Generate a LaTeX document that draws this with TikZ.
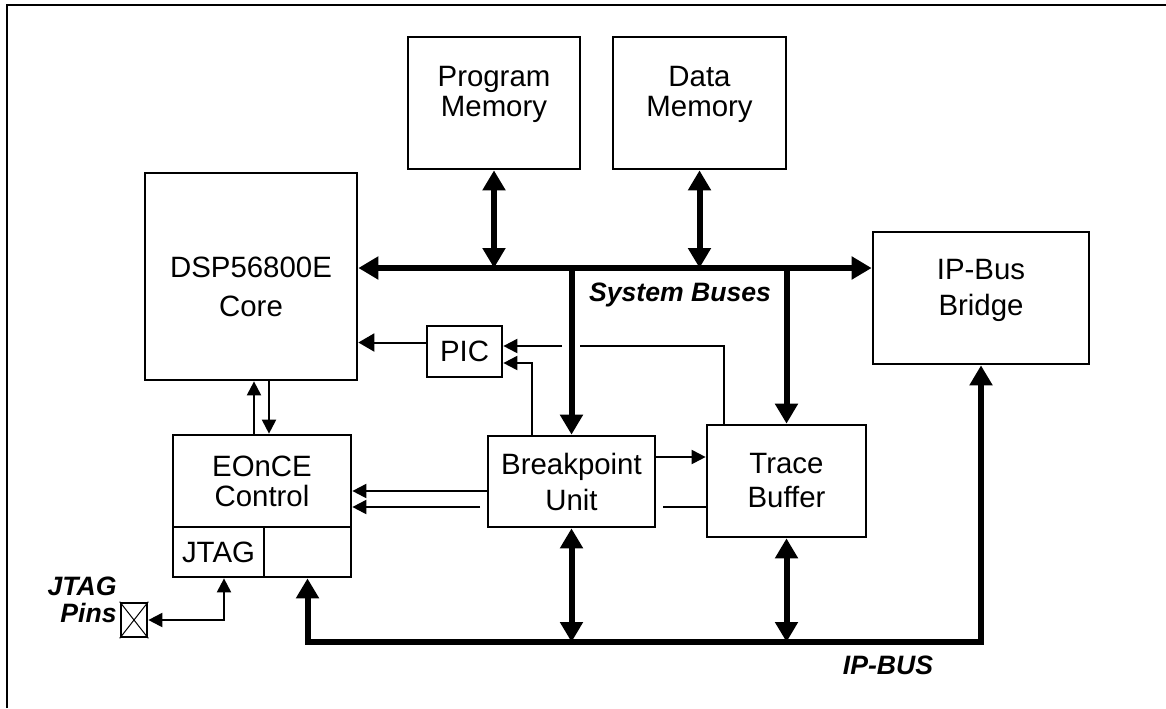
\documentclass[tikz,border=0pt]{standalone}
\usepackage{fontspec}
\setmainfont{Liberation Sans}
\usepackage{tikz}
\usetikzlibrary{
  arrows.meta,
  calc
}
\tikzset{
  bustip/.tip={Triangle[length=10pt, width=11pt]},
  sigtip/.tip={Triangle[length=7pt, width=7pt]},
  bigtip/.tip={Triangle[length=8pt, width=9pt]}
}

\begin{document}
\begin{tikzpicture}[x=0.5pt, y=-0.5pt,
  blk/.style={draw, line width=1.35pt, inner sep=0pt, align=center, font=\fontsize{14.7pt}{15pt}\selectfont},
  txt/.style={inner sep=0pt, align=center, font=\fontsize{14.7pt}{15pt}\selectfont},
  lbl/.style={inner sep=0pt, font=\fontsize{13.3pt}{13.5pt}\selectfont\bfseries\itshape},
  sig/.style={line width=1pt},
  bus/.style={line width=3pt}]
  \useasboundingbox (0,0) rectangle (1166,708);
  \draw[line width=1pt] (7,708) -- (7,5) -- (1166,5);

  \node[blk, minimum width=86pt, minimum height=66pt] (pm) at (494,103) {};
  \node[txt] (pmtxt) at ([yshift=4.5pt]pm.center) {Program\\Memory};
  \node[blk, minimum width=86.5pt, minimum height=66pt] (dm) at (699.5,103) {};
  \node[txt] (dmtxt) at ([yshift=4.5pt]dm.center) {Data\\Memory};
  \node[blk, minimum width=106pt, minimum height=103.5pt] (core) at (251,276.5) {};
  \node[txt] (coretxt) at ([yshift=-5pt]core.center) {DSP56800E\\[4.5pt]Core};
  \node[blk, minimum width=108pt, minimum height=66pt] (bridge) at (981,298) {};
  \node[txt] (bridgetxt) at ([yshift=4pt]bridge.center) {IP-Bus\\[3pt]Bridge};
  \node[blk, minimum width=37.5pt, minimum height=25.5pt] (pic) at (464.5,351.5) {PIC};
  \node[blk, minimum width=83.5pt, minimum height=45.5pt] (bpu) at (571.5,481.5) {Breakpoint\\[3pt]Unit};
  \node[blk, minimum width=79.5pt, minimum height=56pt] (trace) at (786.5,481) {Trace\\[2pt]Buffer};
  \node[blk, minimum width=89pt, minimum height=46pt] (eonce) at (262,481) {EOnCE\\Control};
  \node[blk, minimum width=45.5pt, minimum height=25pt] (jtag) at (218.5,552) {JTAG};
  \node[blk, minimum width=43.5pt, minimum height=25pt] (spare) at (307.5,552) {};
  \node[blk, minimum width=13pt, minimum height=17pt] (pins) at (134,620) {};
  \draw[line width=0.5pt] (pins.north west) -- (pins.south east) (pins.south west) -- (pins.north east);

  \node[lbl] (sysbus) at (680,295) {System Buses};
  \node[lbl] (ipbus) at (888,665) {IP-BUS};
  \node[lbl, anchor=east, align=right] (jtagpins) at (117,600) {JTAG\\Pins};

  \coordinate (sb) at (571,268);
  \coordinate (ipb) at (572,642);
  \draw[bus, bustip-bustip] (core.east |- sb) -- (bridge.west |- sb);
  \draw[bus, bustip-bustip] (pm.south) -- (pm.south |- sb);
  \draw[bus, bustip-bustip] (dm.south) -- (dm.south |- sb);
  \draw[bus, -bustip] (bpu.north |- sb) -- (bpu.north);
  \draw[bus, -bustip] (trace.north |- sb) -- (trace.north);
  \draw[bus, bustip-bustip] (spare.south) |- (ipb) -| (bridge.south);
  \draw[bus, bustip-bustip] (bpu.south) -- (bpu.south |- ipb);
  \draw[bus, bustip-bustip] (trace.south) -- (trace.south |- ipb);

  \coordinate (picin) at ([yshift=4.5pt]pic.west);
  \draw[sig, -bigtip] (picin) -- (picin -| core.east);
  \coordinate (tbup) at ([xshift=9pt]trace.north west);
  \coordinate (gapR) at (580,346);
  \coordinate (gapL) at (562,346);
  \draw[sig] (tbup) |- (gapR);
  \draw[sig, -sigtip] (gapL) -- (gapL -| pic.east);
  \coordinate (bpup) at ([xshift=22.5pt]bpu.north west);
  \draw[sig, -sigtip] (bpup) |- ([yshift=-5.75pt]pic.east);

  \coordinate (eup) at ([xshift=-4pt]eonce.north);
  \coordinate (edn) at ([xshift=3.5pt]eonce.north);
  \draw[sig, -sigtip] (eup) -- (eup |- core.south);
  \draw[sig, -sigtip] (edn |- core.south) -- (edn);

  \coordinate (bt) at ([yshift=12.25pt]bpu.east);
  \draw[sig, -sigtip] (bt) -- (bt -| trace.west);
  \coordinate (be) at ([yshift=-4.75pt]bpu.west);
  \draw[sig, -sigtip] (be) -- (be -| eonce.east);
  \coordinate (tbR) at (663,507);
  \coordinate (tbL) at (480,507);
  \draw[sig] (trace.west |- tbR) -- (tbR);
  \draw[sig, -sigtip] (tbL) -- (tbL -| eonce.east);

  \coordinate (js) at ([xshift=2.75pt]jtag.south);
  \draw[sig, sigtip-sigtip] (pins.east) -| (js);
\end{tikzpicture}
\end{document}
